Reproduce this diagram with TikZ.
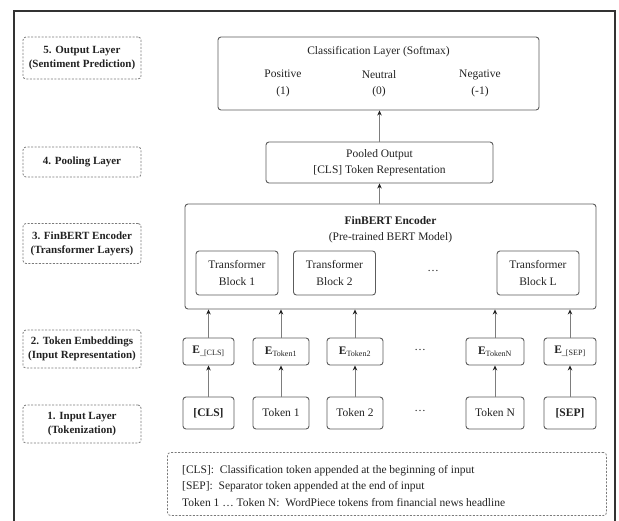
\documentclass[tikz,border=0pt]{standalone}
\usepackage{fontspec}
\setmainfont{Liberation Serif}
\usetikzlibrary{arrows.meta, positioning}
\definecolor{cLine}{HTML}{5C5C5C}
\definecolor{cDash}{HTML}{7A7A7A}
\definecolor{cText}{HTML}{222222}
\definecolor{cFrame}{HTML}{333333}

\begin{document}
\begin{tikzpicture}[x=1pt, y=-1pt,
  font=\fontsize{11.5}{16.5}\selectfont, text=cText,
  box/.style={draw=cLine, rounded corners=3pt, align=center, inner sep=2pt,
              line width=0.9pt, fill=white},
  tbox/.style={box, minimum width=82pt, minimum height=44pt},
  emb/.style={box, minimum height=27pt},
  tok/.style={box, minimum height=32pt},
  lbl/.style={draw=cDash, dash pattern=on 2pt off 1.5pt, rounded corners=3pt,
              line width=0.8pt, align=center, minimum width=118pt,
              font=\fontsize{11}{14}\selectfont\bfseries},
  note/.style={draw=cDash, dash pattern=on 2pt off 1.5pt, rounded corners=3pt,
               line width=0.8pt},
  txt/.style={align=center, inner sep=0pt},
  arr/.style={-{Stealth[length=5pt, width=4.5pt, color=cText]}, line width=0.8pt,
              draw=cLine!80}
]
\useasboundingbox (0,0) rectangle (619,520);

% OUTER FRAME
\draw[cFrame, line width=2.5pt] (14,530) -- (14,11) -- (615,11) -- (615,530);

% LAYER LABELS (left column)
\node[lbl, minimum height=42pt] (l5) at (82,58)    {5. Output Layer\\(Sentiment Prediction)};
\node[lbl, minimum height=30pt] (l4) at (82,162)   {4. Pooling Layer};
\node[lbl, minimum height=40pt] (l3) at (82,243.5) {3. FinBERT Encoder\\(Transformer Layers)};
\node[lbl, minimum height=38pt] (l2) at (82,349)   {2. Token Embeddings\\(Input Representation)};
\node[lbl, minimum height=38pt] (l1) at (82,424)   {1. Input Layer\\(Tokenization)};

% LAYER 5: CLASSIFICATION
\node[box, minimum width=321pt, minimum height=73pt] (cls) at (378.5,73.5) {};
\node[txt] (clsT) at (378.5,52)   {Classification Layer (Softmax)};
\node[txt] (pos)  at (283,83.5)   {Positive\\(1)};
\node[txt] (neu)  at (379,83.5)   {Neutral\\(0)};
\node[txt] (neg)  at (480,83.5)   {Negative\\(-1)};

% LAYER 4: POOLING
\node[box, minimum width=227pt, minimum height=41pt] (pool) at (379.5,162.5)
  {Pooled Output\\{}[CLS] Token Representation};

% LAYER 3: ENCODER
\node[box, minimum width=411pt, minimum height=105pt] (enc) at (390.5,256.5) {};
\node[txt] (encT) at (390.5,229.5) {\textbf{FinBERT Encoder}\\(Pre-trained BERT Model)};
\node[tbox] (tb1) at (237,273)   {Transformer\\Block 1};
\node[tbox] (tb2) at (334.5,273) {Transformer\\Block 2};
\node[txt]  (tbD) at (433,271)   {\dots};
\node[tbox] (tbL) at (538,273)   {Transformer\\Block L};

% LAYER 2: EMBEDDINGS
\node[emb, minimum width=51pt] (ecls) at (208.5,351.5) {\textbf{E}\textsubscript{\_[CLS]}};
\node[emb, minimum width=56pt] (e1)   at (281,351.5)   {\textbf{E}\textsubscript{Token1}};
\node[emb, minimum width=56pt] (e2)   at (355,351.5)   {\textbf{E}\textsubscript{Token2}};
\node[txt]                     (eD)   at (420,349.5)   {\dots};
\node[emb, minimum width=58pt] (eN)   at (495,351.5)   {\textbf{E}\textsubscript{TokenN}};
\node[emb, minimum width=52pt] (esep) at (570,351.5)   {\textbf{E}\textsubscript{\_[SEP]}};

% LAYER 1: TOKENS
\node[tok, minimum width=51pt] (tcls) at (208.5,413) {\textbf{[CLS]}};
\node[tok, minimum width=56pt] (t1)   at (281,413)   {Token 1};
\node[tok, minimum width=56pt] (t2)   at (355,413)   {Token 2};
\node[txt]                     (tD)   at (420,411)   {\dots};
\node[tok, minimum width=58pt] (tN)   at (495,413)   {Token N};
\node[tok, minimum width=52pt] (tsep) at (570,413)   {\textbf{[SEP]}};

% NOTE
\node[note, minimum width=439pt, minimum height=63pt] (nt) at (387,484) {};
\node[txt, align=left, anchor=west] (ntT) at (182,486)
  {[CLS]:\ \ Classification token appended at the beginning of input\\
   {}[SEP]:\ \ Separator token appended at the end of input\\
   Token 1 \dots\ Token N:\ \ WordPiece tokens from financial news headline};

% ARROWS
\draw[arr] (tcls) -- (ecls);
\draw[arr] (t1) -- (e1);
\draw[arr] (t2) -- (e2);
\draw[arr] (tN) -- (eN);
\draw[arr] (tsep) -- (esep);
\draw[arr] (ecls) -- (ecls |- enc.south);
\draw[arr] (e1) -- (e1 |- enc.south);
\draw[arr] (e2) -- (e2 |- enc.south);
\draw[arr] (eN) -- (eN |- enc.south);
\draw[arr] (esep) -- (esep |- enc.south);
\draw[arr] (enc.north -| pool.south) -- (pool.south);
\draw[arr] (pool.north) -- (pool.north |- cls.south);

\end{tikzpicture}
\end{document}
